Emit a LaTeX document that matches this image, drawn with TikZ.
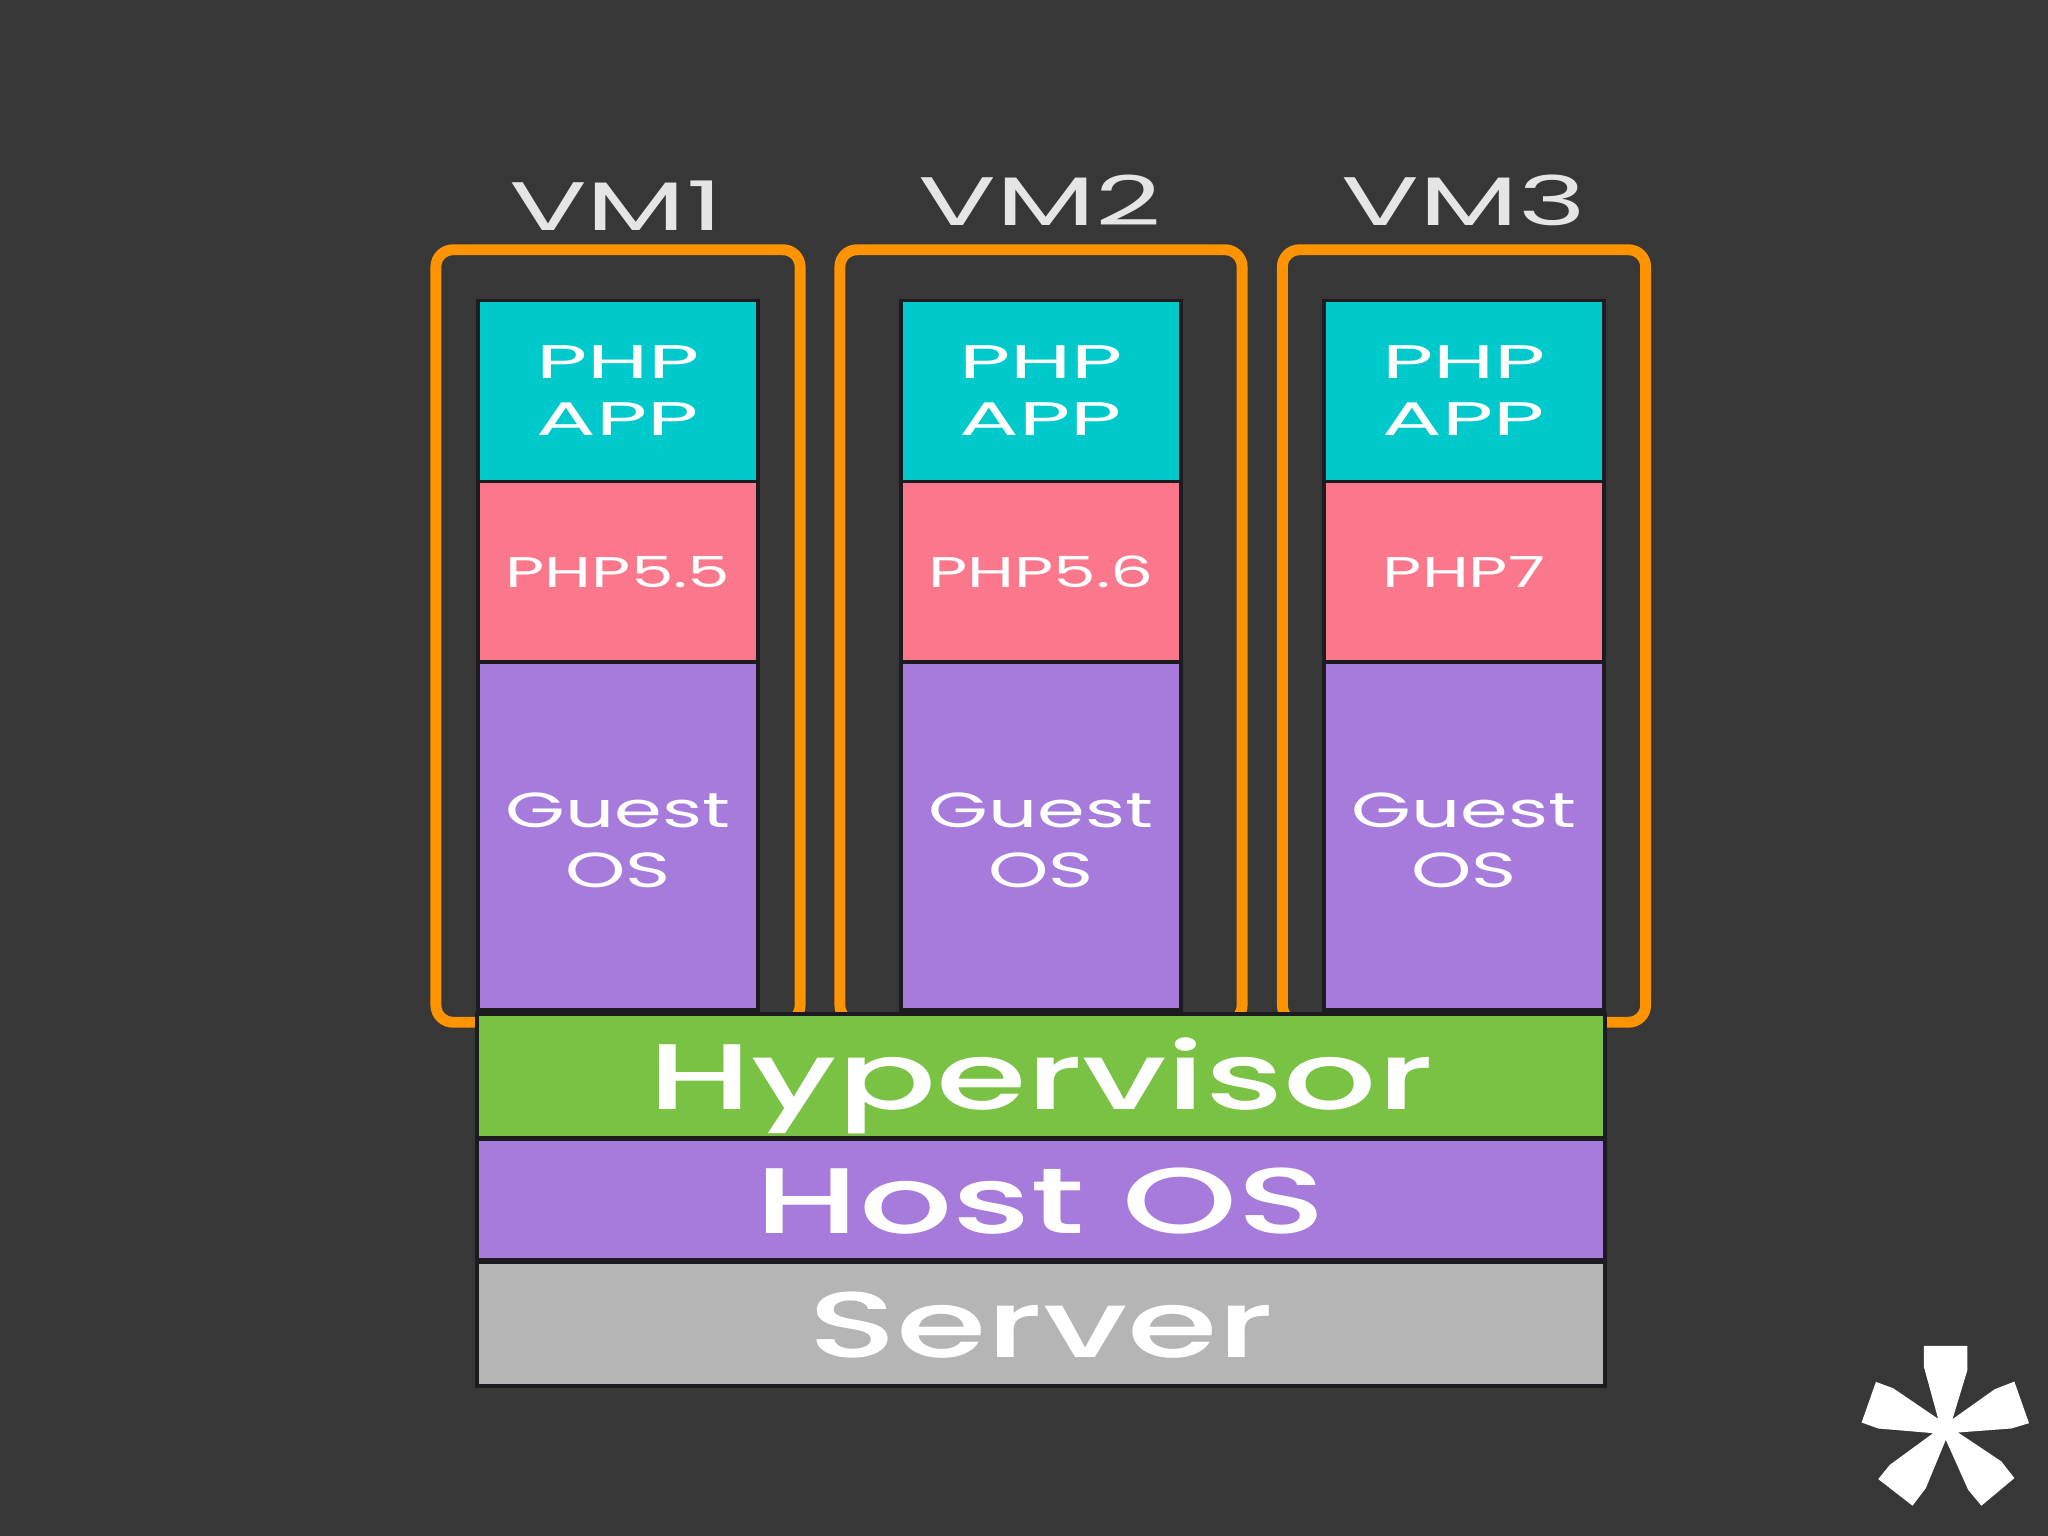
\documentclass[tikz,border=0pt]{standalone}
\usepackage{fontspec}
\usepackage{tikz}
\setmainfont{Poppins}
\newfontfamily\wideface[FakeStretch=1.57]{Poppins Medium}
\newfontfamily\nameface[FakeStretch=1.68]{Poppins}
\newfontfamily\appface[FakeStretch=1.88]{Poppins}
\newfontfamily\verface[FakeStretch=1.58]{Poppins}
\newfontfamily\guestface[FakeStretch=1.56]{Poppins}

\definecolor{bgdark}{HTML}{383738}
\definecolor{edgedark}{HTML}{1C1B20}
\definecolor{frameorange}{HTML}{FF9400}
\definecolor{appteal}{HTML}{00C9CC}
\definecolor{phppink}{HTML}{FB788C}
\definecolor{ospurple}{HTML}{A67BDC}
\definecolor{hvgreen}{HTML}{7AC244}
\definecolor{servergray}{HTML}{B6B5B6}

\tikzset{
  layer/.style={draw=edgedark,line width=1.1pt,inner sep=0pt,outer sep=0pt,
    text=white,align=center},
  smalllayer/.style={layer,minimum width=2.8cm},
  widelayer/.style={layer,minimum width=11.27cm,text height=0.67cm,text depth=0cm,
    font=\wideface\fontsize{26.5}{30}\selectfont},
  vmframe/.style={draw=frameorange,line width=3.1pt,rounded corners=0.17cm,
    inner sep=0pt,minimum height=7.72cm},
  vmlabel/.style={text=white!90!black,inner sep=0pt,
    font=\nameface\fontsize{19.5}{22}\selectfont}
}

\begin{document}
\begin{tikzpicture}[x=0.01cm,y=-0.01cm]
  % Hintergrund
  \fill[bgdark] (0,0) rectangle (2048,1536);

  % VM-Spalten
  \foreach \n/\cx/\fw/\lx/\ly/\ver in {1/618/3.64/616/206/PHP5.5,2/1041/4.02/1040/200/PHP5.6,3/1464/3.63/1464/200/PHP7} {
    \node[vmframe,minimum width=\fw cm] (vm\n) at (\cx,636) {};
    \node[vmlabel] (name\n) at (\lx,\ly) {VM\n};
    \node[smalllayer,fill=appteal,minimum height=1.81cm,
      font=\appface\fontsize{13.4}{16.2}\selectfont] (app\n) at (\cx,391) {PHP\\APP};
    \node[smalllayer,fill=phppink,minimum height=1.81cm,
      font=\verface\fontsize{12.2}{15}\selectfont] (php\n) at (\cx,572) {\ver};
    \node[smalllayer,fill=ospurple,minimum height=3.47cm,text height=1.03cm,
      font=\guestface\fontsize{14}{17}\selectfont] (guest\n) at (\cx,836) {Guest\\OS};
  }

  % Unterbau
  \node[widelayer,fill=hvgreen,minimum height=1.24cm] (hypervisor) at (1041,1076) {Hypervisor};
  \node[widelayer,fill=ospurple,minimum height=1.2cm] (hostos) at (1041,1199.5) {Host OS};
  \node[widelayer,fill=servergray,minimum height=1.24cm] (server) at (1041,1324) {Server};

  % Stern
  \begin{scope}[shift={(1820,1320)},x=0.00333cm,y=-0.00333cm]
    \fill[white] (312,78) -- (443,78) -- (443,150) -- (398,298) -- (525,208) -- (584,185)
      -- (628,310) -- (575,326) -- (415,338) -- (545,425) -- (584,475) -- (485,558)
      -- (445,510) -- (378,360) -- (318,505) -- (278,558) -- (175,478) -- (210,435)
      -- (340,340) -- (175,326) -- (125,308) -- (168,186) -- (220,205) -- (355,297)
      -- (312,140) -- cycle;
  \end{scope}
\end{tikzpicture}
\end{document}
